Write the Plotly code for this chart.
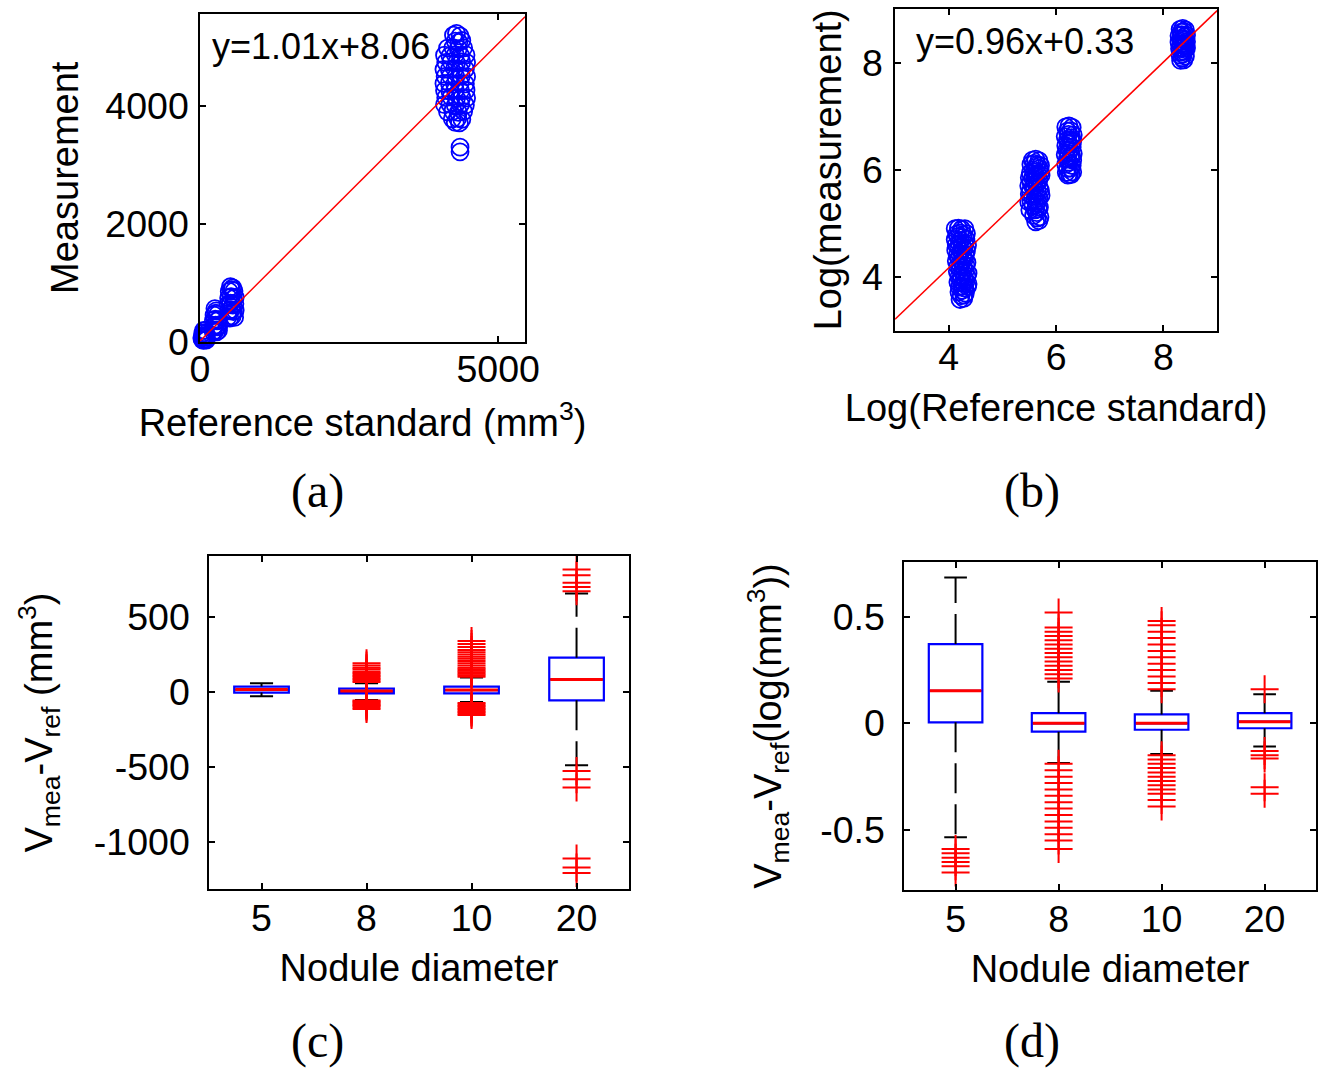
import plotly.graph_objects as go

FONT = "Arial, Liberation Sans, sans-serif"
SERIF = "Times New Roman, Liberation Serif, serif"
BLUE = "#0000FF"
RED = "#FF0000"

# ---------------- Panel (a): measurement vs reference (mm^3) ----------------
a_x_5 = [40, 60, 85, 105, 50, 75, 100, 45, 70, 95, 60, 85, 30, 110]
a_y_5 = [30, 20, 35, 25, 80, 95, 70, 140, 150, 130, 190, 185, 60, 110]
a_x_8 = [220, 250, 280, 310, 230, 260, 290, 315, 225, 255, 285, 310, 235, 265, 295, 270, 250]
a_y_8 = [170, 180, 165, 190, 260, 280, 250, 270, 360, 380, 350, 370, 450, 480, 460, 520, 560]
a_x_10 = [470, 500, 540, 580, 480, 520, 560, 590, 470, 510, 550, 585, 480, 520, 560, 590, 490, 530, 570, 510, 550]
a_y_10 = [420, 400, 430, 410, 520, 540, 510, 530, 630, 650, 620, 640, 740, 760, 730, 750, 850, 880, 860, 930, 910]
a_x_20 = [4250, 4300, 4360, 4280, 4340, 4390,
          4150, 4240, 4330, 4420,
          4100, 4190, 4280, 4370, 4460,
          4120, 4210, 4300, 4390, 4470,
          4090, 4180, 4270, 4360, 4450,
          4110, 4200, 4290, 4380, 4470,
          4090, 4180, 4270, 4360, 4450,
          4100, 4190, 4280, 4370, 4460,
          4120, 4210, 4300, 4390, 4470,
          4100, 4190, 4280, 4370, 4450,
          4150, 4240, 4330, 4420,
          4230, 4320, 4390,
          4280, 4350,
          4360, 4360]
a_y_20 = [5200, 5230, 5190, 5100, 5080, 5110,
          4980, 4990, 4970, 4985,
          4860, 4850, 4870, 4855, 4865,
          4740, 4750, 4730, 4745, 4735,
          4620, 4615, 4630, 4610, 4625,
          4500, 4510, 4490, 4505, 4495,
          4380, 4390, 4370, 4385, 4375,
          4260, 4250, 4270, 4255, 4265,
          4140, 4150, 4130, 4145, 4135,
          4020, 4030, 4010, 4025, 4015,
          3900, 3910, 3890, 3905,
          3780, 3790, 3770,
          3720, 3710,
          3300, 3220]
slope_a, intercept_a = 1.01, 8.06
eq_a = "y=1.01x+8.06"

# ---------------- Panel (b): log measurement vs log reference ----------------
b_x_5 = [4.12, 4.18, 4.24, 4.30, 4.12, 4.17, 4.22, 4.27, 4.32, 4.13, 4.18, 4.23, 4.28, 4.33,
         4.14, 4.19, 4.24, 4.29, 4.34, 4.16, 4.21, 4.26, 4.31, 4.36, 4.17, 4.22, 4.27, 4.32, 4.36,
         4.19, 4.25, 4.31, 4.21, 4.28,
         4.15, 4.21, 4.27, 4.33, 4.14, 4.20, 4.25, 4.30, 4.35, 4.16, 4.21, 4.26, 4.31,
         4.17, 4.22, 4.27, 4.32, 4.19, 4.24, 4.29, 4.34, 4.20, 4.25, 4.30, 4.35, 4.23, 4.29]
b_y_5 = [4.90, 4.91, 4.89, 4.90, 4.70, 4.75, 4.68, 4.74, 4.71, 4.50, 4.55, 4.48, 4.53, 4.49,
         4.30, 4.35, 4.28, 4.33, 4.27, 4.10, 4.14, 4.08, 4.12, 4.07, 3.90, 3.94, 3.88, 3.92, 3.87,
         3.72, 3.75, 3.70, 3.58, 3.60,
         4.80, 4.82, 4.79, 4.81, 4.60, 4.62, 4.58, 4.61, 4.59, 4.40, 4.42, 4.38, 4.41,
         4.20, 4.22, 4.18, 4.21, 4.00, 4.02, 3.98, 4.01, 3.81, 3.83, 3.79, 3.82, 3.65, 3.66]
b_x_8 = [5.50, 5.49, 5.50, 5.49, 5.51, 5.56, 5.62, 5.68, 5.57, 5.63, 5.69, 5.56, 5.62, 5.68, 5.72,
         5.57, 5.63, 5.69, 5.56, 5.62, 5.68, 5.72, 5.57, 5.63, 5.69, 5.58, 5.64, 5.70, 5.62, 5.68,
         5.53, 5.59, 5.65, 5.71, 5.52, 5.59, 5.65, 5.71, 5.53, 5.60, 5.66,
         5.52, 5.59, 5.65, 5.71, 5.53, 5.60, 5.66, 5.61, 5.67, 5.65]
b_y_8 = [5.85, 5.70, 5.55, 5.40, 5.25, 6.18, 6.20, 6.17, 6.00, 6.05, 6.02, 5.85, 5.88, 5.82, 5.90,
         5.68, 5.72, 5.66, 5.50, 5.55, 5.48, 5.52, 5.33, 5.38, 5.30, 5.15, 5.20, 5.12, 5.03, 5.05,
         6.10, 6.12, 6.09, 6.08, 5.94, 5.96, 5.93, 5.95, 5.77, 5.79, 5.76,
         5.60, 5.62, 5.59, 5.61, 5.42, 5.44, 5.41, 5.25, 5.27, 5.10]
b_x_10 = [6.18, 6.24, 6.30, 6.17, 6.23, 6.29, 6.32, 6.18, 6.24, 6.30, 6.17, 6.23, 6.29, 6.32,
          6.18, 6.24, 6.30, 6.19, 6.25, 6.31,
          6.21, 6.27, 6.21, 6.27, 6.31, 6.20, 6.26, 6.21, 6.27, 6.31, 6.21, 6.27, 6.22, 6.28]
b_y_10 = [6.80, 6.82, 6.79, 6.62, 6.66, 6.60, 6.65, 6.45, 6.48, 6.42, 6.28, 6.31, 6.25, 6.30,
          6.10, 6.14, 6.08, 5.95, 5.92, 5.96,
          6.72, 6.73, 6.55, 6.56, 6.53, 6.37, 6.38, 6.20, 6.21, 6.18, 6.02, 6.03, 5.90, 5.91]
b_x_20 = [8.31, 8.36, 8.41, 8.29, 8.34, 8.39, 8.43, 8.29, 8.34, 8.39, 8.43, 8.30, 8.35, 8.40, 8.43,
          8.31, 8.36, 8.41, 8.32, 8.38,
          8.33, 8.38, 8.32, 8.37, 8.41, 8.32, 8.37, 8.41, 8.33, 8.38, 8.35]
b_y_20 = [8.62, 8.64, 8.61, 8.50, 8.52, 8.48, 8.51, 8.38, 8.40, 8.36, 8.39, 8.26, 8.28, 8.24, 8.27,
          8.14, 8.16, 8.12, 8.04, 8.05,
          8.57, 8.58, 8.45, 8.44, 8.43, 8.33, 8.32, 8.31, 8.20, 8.21, 8.09]
slope_b, intercept_b = 0.96, 0.33
eq_b = "y=0.96x+0.33"

# ---------------- Panels (c), (d): box plots by nodule diameter ----------------
diameters = ["5", "8", "10", "20"]

c_q1 = [-5, -10, -10, -57]
c_med = [15, 5, 12, 83]
c_q3 = [35, 21, 35, 228]
c_lo = [-30, -55, -68, -490]
c_hi = [57, 57, 95, 657]
c_out = [
    [],
    [65, 75, 85, 95, 105, 115, 125, 135, 150, 160, 175, 190,
     -58, -65, -72, -80, -88, -95, -105, -115],
    [100, 110, 120, 130, 140, 150, 160, 175, 190, 205, 220, 235, 250, 265, 280, 300, 320, 340,
     -75, -85, -95, -105, -115, -125, -135, -145, -155],
    [672, 700, 728, 779, 817, -528, -583, -639, -1112, -1172, -1210],
]
c_ticks = [-1000, -500, 0, 500]
c_ticktext = ["-1000", "-500", "0", "500"]

d_q1 = [0.005, -0.039, -0.030, -0.023]
d_med = [0.153, 0.0, 0.0, 0.008]
d_q3 = [0.372, 0.048, 0.042, 0.048]
d_lo = [-0.534, -0.186, -0.144, -0.108]
d_hi = [0.684, 0.195, 0.153, 0.137]
d_out = [
    [-0.59, -0.61, -0.63, -0.65, -0.67, -0.70],
    [0.21, 0.23, 0.25, 0.27, 0.29, 0.31, 0.33, 0.35, 0.37, 0.39, 0.41, 0.43, 0.45, 0.52,
     -0.19, -0.22, -0.25, -0.28, -0.31, -0.34, -0.37, -0.40, -0.43, -0.46, -0.49, -0.52, -0.55, -0.59],
    [0.16, 0.19, 0.22, 0.25, 0.28, 0.31, 0.34, 0.37, 0.40, 0.43, 0.46, 0.48,
     -0.15, -0.17, -0.19, -0.21, -0.23, -0.25, -0.27, -0.29, -0.31, -0.33, -0.36, -0.39],
    [0.16, -0.13, -0.15, -0.165, -0.30, -0.33],
]
d_ticks = [-0.5, 0, 0.5]
d_ticktext = ["-0.5", "0", "0.5"]

fig = go.Figure()


def circles(xs, ys, xa, ya):
    fig.add_trace(go.Scatter(
        x=xs, y=ys, mode="markers", xaxis=xa, yaxis=ya, cliponaxis=False,
        marker=dict(symbol="circle-open", size=17, color=BLUE, line=dict(width=1.8, color=BLUE)),
        showlegend=False, hoverinfo="skip"))


# (a)
for xs, ys in [(a_x_5, a_y_5), (a_x_8, a_y_8), (a_x_10, a_y_10), (a_x_20, a_y_20)]:
    circles(xs, ys, "x", "y")
a_xr = [0, 5450]
fig.add_trace(go.Scatter(x=a_xr, y=[slope_a * v + intercept_a for v in a_xr], mode="lines",
                         line=dict(color=RED, width=1.5), xaxis="x", yaxis="y", showlegend=False))

# (b)
for xs, ys in [(b_x_5, b_y_5), (b_x_8, b_y_8), (b_x_10, b_y_10), (b_x_20, b_y_20)]:
    circles(xs, ys, "x2", "y2")
b_xr = [3, 9]
fig.add_trace(go.Scatter(x=b_xr, y=[slope_b * v + intercept_b for v in b_xr], mode="lines",
                         line=dict(color=RED, width=1.5), xaxis="x2", yaxis="y2", showlegend=False))


def boxes(q1, med, q3, lo, hi, outs, xa, ya):
    pos = list(range(1, len(diameters) + 1))
    half = 0.26
    cap = 0.11
    # whiskers (dashed)
    wx, wy = [], []
    for p, a, b, l, h in zip(pos, q1, q3, lo, hi):
        wx += [p, p, None, p, p, None]
        wy += [b, h, None, a, l, None]
    fig.add_trace(go.Scatter(x=wx, y=wy, mode="lines", xaxis=xa, yaxis=ya,
                             line=dict(color="black", width=2, dash="30px,11px"), showlegend=False))
    # caps
    cx, cy = [], []
    for p, l, h in zip(pos, lo, hi):
        cx += [p - cap, p + cap, None, p - cap, p + cap, None]
        cy += [h, h, None, l, l, None]
    fig.add_trace(go.Scatter(x=cx, y=cy, mode="lines", xaxis=xa, yaxis=ya,
                             line=dict(color="black", width=2), showlegend=False))
    # boxes
    fig.add_trace(go.Box(x=pos, q1=q1, median=med, q3=q3, lowerfence=q1, upperfence=q3,
                         width=2 * half, whiskerwidth=0, boxpoints=False,
                         line=dict(color=BLUE, width=2.2), fillcolor="rgba(0,0,0,0)",
                         xaxis=xa, yaxis=ya, showlegend=False))
    # medians (red, drawn over the box's own median)
    mx, my = [], []
    for p, m in zip(pos, med):
        mx += [p - half + 0.01, p + half - 0.01, None]
        my += [m, m, None]
    fig.add_trace(go.Scatter(x=mx, y=my, mode="lines", xaxis=xa, yaxis=ya,
                             line=dict(color=RED, width=3), showlegend=False))
    # outliers
    ox, oy = [], []
    for p, vals in zip(pos, outs):
        ox += [p] * len(vals)
        oy += vals
    fig.add_trace(go.Scatter(x=ox, y=oy, mode="markers", xaxis=xa, yaxis=ya, cliponaxis=False,
                             marker=dict(symbol="cross-thin", size=20, color=RED,
                                         line=dict(width=2, color=RED)),
                             showlegend=False))


boxes(c_q1, c_med, c_q3, c_lo, c_hi, c_out, "x3", "y3")
boxes(d_q1, d_med, d_q3, d_lo, d_hi, d_out, "x4", "y4")

# layout geometry (target pixel positions, compensated for the page's rendering offset/scale)
OFFX, OFFY, SC = 8, 0, 0.982
W, H = 1340, 1088


def fx(xp):
    return (xp - OFFX) / SC / W


def fy(yp):
    return 1 - (yp - OFFY) / SC / H


def dom_x(l, r):
    return [fx(l), min(fx(r), 1)]


def dom_y(t, b):
    return [fy(b), min(fy(t), 1)]


TICK = 37.5
TITLE = 38


def ax(**kw):
    base = dict(showline=True, linecolor="black", linewidth=1.5, mirror="ticks",
                ticks="inside", ticklen=6, tickwidth=1.5, tickcolor="black",
                showgrid=False, zeroline=False,
                tickfont=dict(family=FONT, size=TICK, color="black"))
    t = kw.pop("title_text", None)
    st = kw.pop("standoff", 10)
    if t is not None:
        base["title"] = dict(text=t, font=dict(family=FONT, size=TITLE, color="black"), standoff=st)
    base.update(kw)
    return base


def label(txt, xp, yp):
    return dict(text=txt, xref="paper", yref="paper", x=fx(xp), y=fy(yp), xanchor="center", yanchor="middle",
                showarrow=False, font=dict(family=SERIF, size=48, color="black"))


fig.update_layout(
    width=W, height=H, margin=dict(l=0, r=0, t=0, b=0),
    paper_bgcolor="white", plot_bgcolor="white", showlegend=False,
    xaxis=ax(domain=dom_x(198, 523), anchor="y", range=[0, 5450], tickvals=[0, 5000],
             title_text="Reference standard (mm<sup>3</sup>)", standoff=20, ticklabelstandoff=-6),
    yaxis=ax(domain=dom_y(14, 342), anchor="x", range=[0, 5560], tickvals=[0, 2000, 4000],
             title_text="Measurement", standoff=15, ticklabelstandoff=2),
    xaxis2=ax(domain=dom_x(893, 1215), anchor="y2", range=[3, 9], tickvals=[4, 6, 8],
              title_text="Log(Reference standard)", standoff=17, ticklabelstandoff=-7),
    yaxis2=ax(domain=dom_y(9, 331), anchor="x2", range=[3, 9], tickvals=[4, 6, 8],
              title_text="Log(measurement)", standoff=9, ticklabelstandoff=3),
    xaxis3=ax(domain=dom_x(207, 627), anchor="y3", range=[0.5, 4.5], tickvals=[1, 2, 3, 4],
              ticktext=diameters, title_text="Nodule diameter", standoff=17, ticklabelstandoff=-5),
    yaxis3=ax(domain=dom_y(557, 890), anchor="x3", range=[-1315, 905], tickvals=c_ticks,
              ticktext=c_ticktext,
              title_text="V<sub>mea</sub>-V<sub>ref</sub> (mm<sup>3</sup>)", standoff=30, ticklabelstandoff=10),
    xaxis4=ax(domain=dom_x(902, 1314), anchor="y4", range=[0.5, 4.5], tickvals=[1, 2, 3, 4],
              ticktext=diameters, title_text="Nodule diameter", standoff=17, ticklabelstandoff=-5),
    yaxis4=ax(domain=dom_y(563, 891), anchor="x4", range=[-0.781, 0.756], tickvals=d_ticks,
              ticktext=d_ticktext,
              title_text="V<sub>mea</sub>-V<sub>ref</sub>(log(mm<sup>3</sup>))", standoff=27, ticklabelstandoff=10),
    annotations=[
        dict(text=eq_a, xref="x domain", yref="y domain", x=0.03, y=0.90, xanchor="left", yanchor="middle",
             showarrow=False, font=dict(family=FONT, size=36, color="black")),
        dict(text=eq_b, xref="x2 domain", yref="y2 domain", x=0.058, y=0.90, xanchor="left", yanchor="middle",
             showarrow=False, font=dict(family=FONT, size=36, color="black")),
        label("(a)", 315, 492),
        label("(b)", 1030, 492),
        label("(c)", 315, 1042),
        label("(d)", 1030, 1042),
    ],
)

fig.write_html("out.html")
